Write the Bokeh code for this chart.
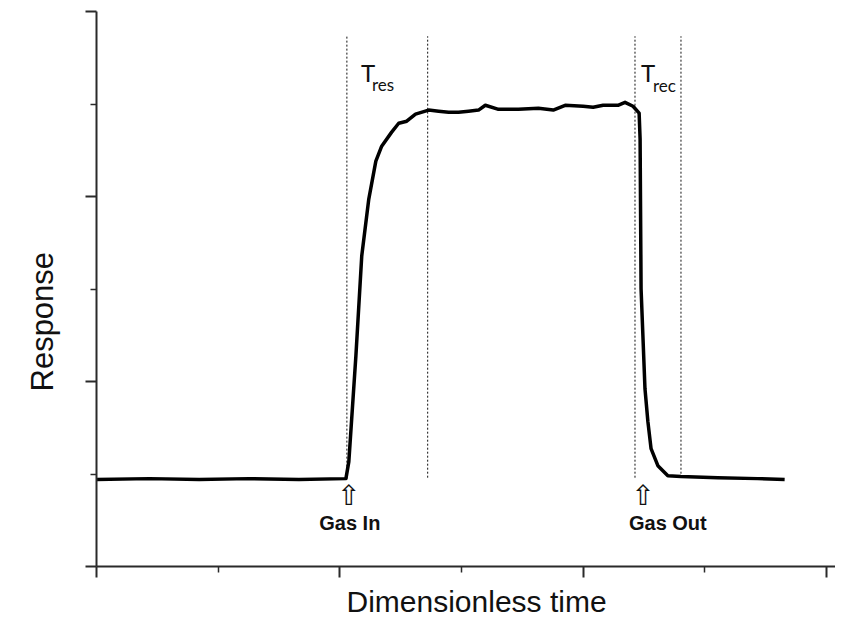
from bokeh.plotting import figure
from bokeh.models import FixedTicker, Label, Range1d, CustomJSTickFormatter, Title
from bokeh.embed import file_html
from bokeh.resources import INLINE

# ---- data ----
time = [0.0, 0.217, 0.422, 0.627, 0.832, 1.025, 1.037, 1.066, 1.090, 1.119,
        1.148, 1.172, 1.213, 1.242, 1.275, 1.311, 1.365, 1.406, 1.447, 1.488,
        1.529, 1.570, 1.598, 1.652, 1.734, 1.816, 1.877, 1.926, 2.000, 2.041,
        2.082, 2.143, 2.172, 2.205, 2.230, 2.234, 2.238, 2.254, 2.266, 2.279,
        2.307, 2.348, 2.402, 2.553, 2.717, 2.828]
response = [0.470, 0.475, 0.470, 0.475, 0.470, 0.475, 0.567, 1.139, 1.678, 1.986,
            2.191, 2.272, 2.348, 2.396, 2.407, 2.445, 2.467, 2.461, 2.456, 2.456,
            2.461, 2.467, 2.493, 2.471, 2.471, 2.477, 2.467, 2.493, 2.488, 2.482,
            2.493, 2.493, 2.509, 2.488, 2.451, 2.310, 1.500, 0.961, 0.783, 0.637,
            0.545, 0.491, 0.486, 0.480, 0.475, 0.470]

# event marker times: gas in, end of T_res, gas out, end of T_rec
marker_times = [1.029, 1.361, 2.213, 2.402]
marker_top = [2.866, 2.866, 2.866, 2.866]
marker_bottom = [0.475, 0.480, 0.480, 0.480]

x_major = [0, 1, 2, 3]
x_minor = [0.5, 1.5, 2.5]
y_major = [0, 1, 2, 3]
y_minor = [0.5, 1.5, 2.5]

event_names = ["Gas In", "Gas Out"]
event_times = [1.037, 2.246]
event_label_times = [1.041, 2.348]
arrow_level = 0.383
event_label_level = 0.237

period_names = ["res", "rec"]
period_times = [1.029, 2.213]
period_T_level = 2.671
period_sub_level = [2.607, 2.598]
period_T_shift = [14, 6]
period_sub_shift = [25, 18]

x_title = "Dimensionless time"
y_title = "Response"

AX = "#2a2a2a"

p = figure(width=835, height=623, output_backend="svg", toolbar_location=None,
           x_range=Range1d(0, 3.037), y_range=Range1d(0, 3.0))
p.min_border_left = 96
p.min_border_right = 0
p.min_border_top = 11
p.min_border_bottom = 57
p.outline_line_color = None
p.xgrid.visible = False
p.ygrid.visible = False
p.background_fill_color = "white"
p.border_fill_color = "white"

blank = CustomJSTickFormatter(code="return ''")
for ax in (p.xaxis[0], p.yaxis[0]):
    ax.axis_line_width = 2
    ax.axis_line_color = AX
    ax.major_tick_line_color = AX
    ax.minor_tick_line_color = AX
    ax.major_tick_line_width = 2
    ax.minor_tick_line_width = 1.5
    ax.major_tick_in = 0
    ax.minor_tick_in = 0
    ax.major_tick_out = 11
    ax.minor_tick_out = 6
    ax.major_label_standoff = 0
    ax.formatter = blank

p.xaxis.ticker = FixedTicker(ticks=x_major, minor_ticks=x_minor)
p.yaxis.ticker = FixedTicker(ticks=y_major, minor_ticks=y_minor)

# axis titles as side titles so they can be shifted along the axes
p.add_layout(Title(text=x_title, align="left", offset=250, standoff=10,
                   text_font="Liberation Sans", text_font_style="normal",
                   text_font_size="30px", text_color="#111111"), "below")
p.add_layout(Title(text=y_title, align="left", offset=175, standoff=48,
                   vertical_align="top",
                   text_font="Liberation Sans", text_font_style="normal",
                   text_font_size="31px", text_color="#111111"), "left")

# dotted marker lines
p.segment(x0=marker_times, x1=marker_times, y0=marker_bottom, y1=marker_top,
          line_color="#111111", line_width=1, line_dash="2 2")

# response curve
p.line(time, response, line_color="black", line_width=3.5, line_join="round")

# T_res / T_rec labels
for name, t, sub_y, ts, ss in zip(period_names, period_times, period_sub_level,
                                  period_T_shift, period_sub_shift):
    p.add_layout(Label(x=t, y=period_T_level, text="T", x_offset=ts,
                       text_font="Lato", text_font_size="24px",
                       text_baseline="alphabetic", text_color="#111111"))
    p.add_layout(Label(x=t, y=sub_y, text=name, x_offset=ss,
                       text_font="Lato", text_font_size="17px",
                       text_baseline="alphabetic", text_color="#111111"))

# Gas In / Gas Out arrows and labels
for name, t, lt in zip(event_names, event_times, event_label_times):
    p.add_layout(Label(x=t, y=arrow_level, text="\u21e7", text_align="center",
                       text_baseline="middle", text_font="DejaVu Sans",
                       text_font_size="28px", text_color="#111111"))
    p.add_layout(Label(x=lt, y=event_label_level, text=name, text_align="center",
                       text_baseline="middle", text_font="Liberation Sans",
                       text_font_style="bold", text_font_size="20px",
                       text_color="#111111"))

open("out.html", "w").write(file_html(p, INLINE))
